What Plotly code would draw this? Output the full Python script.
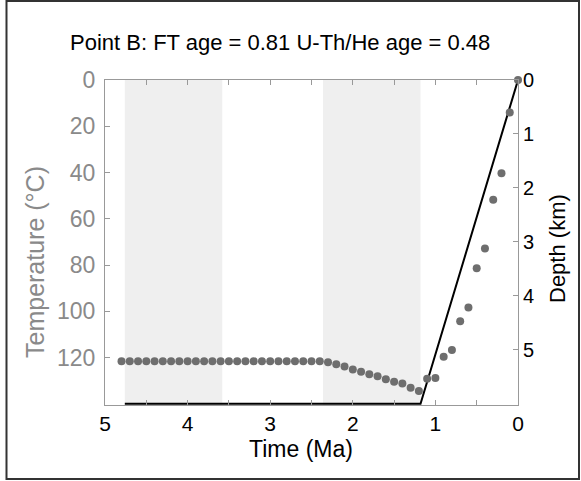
import plotly.graph_objects as go

# Data
ages_ma = [4.8, 4.7, 4.6, 4.5, 4.4, 4.3, 4.2, 4.1, 4.0, 3.9, 3.8, 3.7, 3.6, 3.5, 3.4,
           3.3, 3.2, 3.1, 3.0, 2.9, 2.8, 2.7, 2.6, 2.5, 2.4, 2.3, 2.2, 2.1, 2.0, 1.9,
           1.8, 1.7, 1.6, 1.5, 1.4, 1.3, 1.2, 1.1, 1.0, 0.9, 0.8, 0.7, 0.6, 0.5, 0.4,
           0.3, 0.2, 0.1, 0.0]
temps_c = [121.6, 121.6, 121.6, 121.6, 121.6, 121.6, 121.6, 121.6, 121.6, 121.6,
           121.6, 121.6, 121.6, 121.6, 121.6, 121.6, 121.6, 121.6, 121.6, 121.6,
           121.6, 121.6, 121.6, 121.6, 121.6, 122.0, 122.9, 123.9, 125.1, 126.1,
           127.2, 128.1, 129.4, 130.4, 131.2, 133.0, 134.4, 129.2, 128.8, 119.6,
           116.7, 104.3, 98.3, 81.4, 72.8, 51.8, 40.3, 14.1, 0.0]
path_ma = [4.76, 1.18, 0.0]
path_temp = [140, 140, 0]
shade_intervals = [(4.76, 3.58), (2.36, 1.18)]
x_ticks = [5, 4, 3, 2, 1, 0]
temp_ticks = [0, 20, 40, 60, 80, 100, 120]
depth_ticks = [0, 1, 2, 3, 4, 5]

GRAY_TXT = "#8a8a8a"
FONT = "Liberation Sans, Arial, sans-serif"

fig = go.Figure()
fig.add_trace(go.Scatter(x=path_ma, y=path_temp, mode="lines",
                         line=dict(color="black", width=2), hoverinfo="skip"))
fig.add_trace(go.Scatter(x=ages_ma, y=temps_c, mode="markers",
                         marker=dict(color="#6e6e6e", size=8), cliponaxis=False))
# invisible trace to activate the right axis
fig.add_trace(go.Scatter(x=[0], y=[0], yaxis="y2", mode="markers",
                         marker=dict(opacity=0), hoverinfo="skip"))

for a, b in shade_intervals:
    fig.add_shape(type="rect", xref="x", yref="paper", x0=a, x1=b, y0=0, y1=1,
                  fillcolor="#efefef", line=dict(width=0), layer="below")

# outer frame
fig.add_shape(type="rect", xref="paper", yref="paper",
              x0=-0.2385, x1=1.1477, y0=-0.2277, y1=1.243,
              line=dict(color="#333333", width=2), fillcolor="rgba(0,0,0,0)")

fig.update_layout(
    width=581, height=481,
    margin=dict(l=105, r=63, t=80, b=76),
    paper_bgcolor="white", plot_bgcolor="white",
    showlegend=False,
    font=dict(family=FONT),
    xaxis=dict(range=[5, 0], tickvals=x_ticks, ticks="inside", ticklen=5,
               tickcolor="#999999", showline=True, linecolor="#999999", linewidth=1,
               mirror="ticks", showgrid=False, zeroline=False, ticklabelstandoff=0,
               tickfont=dict(size=21, color="black"),
               minor=dict(ticks="inside", dtick=0.5, ticklen=5, tickcolor="#999999")),
    yaxis=dict(range=[140.5, 0], tickvals=temp_ticks, ticks="inside", ticklen=5,
               tickcolor="#999999", showline=True, linecolor="#999999", linewidth=1,
               showgrid=False, zeroline=False, ticklabelstandoff=4,
               tickfont=dict(size=23, color=GRAY_TXT)),
    yaxis2=dict(range=[6.02, 0], tickvals=depth_ticks, overlaying="y", side="right",
                ticks="inside", ticklen=5, tickcolor="#999999", showline=True,
                linecolor="#999999", linewidth=1, showgrid=False, zeroline=False,
                tickfont=dict(size=20, color="black")),
    annotations=[
        dict(text="Point B: FT age = 0.81 U-Th/He age = 0.48", xref="paper", yref="paper",
             x=(280 - 105) / 413, y=(405 - 42) / 325, showarrow=False,
             font=dict(size=22, color="black"), xanchor="center", yanchor="middle"),
        dict(text="Temperature (°C)", xref="paper", yref="paper",
             x=(35 - 105) / 413, y=(405 - 262) / 325, showarrow=False, textangle=-90,
             font=dict(size=25, color=GRAY_TXT), xanchor="center", yanchor="middle"),
        dict(text="Depth (km)", xref="paper", yref="paper",
             x=(557 - 105) / 413, y=(405 - 249) / 325, showarrow=False, textangle=-90,
             font=dict(size=22, color="black"), xanchor="center", yanchor="middle"),
        dict(text="Time (Ma)", xref="paper", yref="paper",
             x=(301 - 105) / 413, y=(405 - 449) / 325, showarrow=False,
             font=dict(size=23, color="black"), xanchor="center", yanchor="middle"),
    ],
)

fig.write_html("out.html")
